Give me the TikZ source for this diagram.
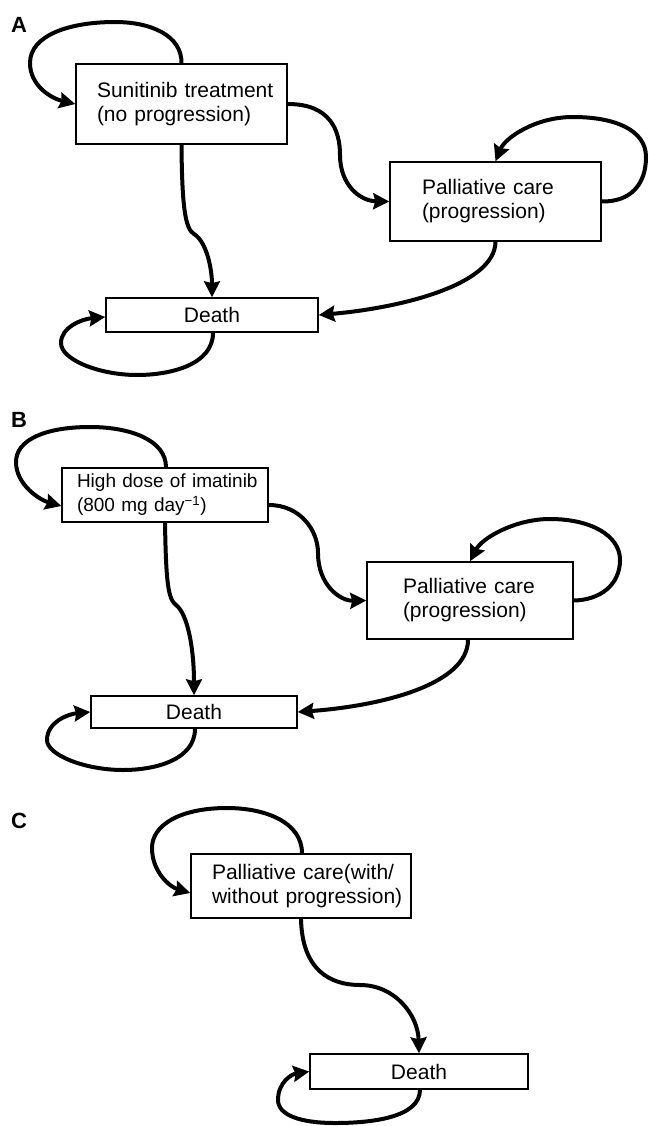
\documentclass[tikz,border=0pt]{standalone}
\usepackage{fontspec}
\setmainfont{Liberation Sans}
\usetikzlibrary{arrows.meta}
\begin{document}
\begin{tikzpicture}[x=1pt,y=-1pt,
  box/.style={draw, line width=1.5pt, inner ysep=0pt, anchor=center,
    font=\fontsize{21}{24}\selectfont},
  arr/.style={line width=4pt, -{Stealth[length=16pt,width=16pt,inset=2pt]}},
  lab/.style={font=\fontsize{22}{22}\selectfont\bfseries}]
\useasboundingbox (0,0) rectangle (648,1126);

% ---------- panel labels
\node[lab] (la) at (19,25) {A};
\node[lab] (lb) at (19,420) {B};
\node[lab] (lc) at (19,821) {C};

% ---------- panel A
\node[box, minimum width=211pt, minimum height=80pt, inner xsep=21pt,
  text width=169pt, align=left] (s1) at (181.5,104)
  {\mbox{Sunitinib treatment}\\\mbox{(no progression)}};
\node[box, minimum width=211pt, minimum height=79pt, inner xsep=32pt,
  text width=147pt, align=left] (p1) at (495.5,201.5)
  {\mbox{Palliative care}\\\mbox{(progression)}};
\node[box, minimum width=212pt, minimum height=34pt, inner xsep=0pt] (d1) at (212,315) {Death};

\draw[arr] (s1.north) .. controls (182,35) and (150,22) .. (115,22)
  .. controls (70,22) and (30,35) .. (30,63)
  .. controls (30,85) and (50,98) .. (s1.west);
\draw[arr] (s1.east) .. controls (330,104) and (340,130) .. (340,155)
  .. controls (340,185) and (360,201) .. (p1.west);
\draw[arr] (p1.east) .. controls (630,202) and (646,185) .. (646,157)
  .. controls (646,130) and (615,117) .. (573,117)
  .. controls (535,117) and (505,138) .. (p1.north);
\draw[arr] (s1.south) .. controls (182,212) and (186,229) .. (194,234)
  .. controls (207,242) and (212,270) .. (d1.north);
\draw[arr] (p1.south) .. controls (495,285) and (400,308) .. (d1.east);
\draw[arr] ([xshift=1pt]d1.south) .. controls (213,365) and (170,375) .. (137,375)
  .. controls (100,375) and (61,360) .. (61,343)
  .. controls (61,327) and (82,319) .. ([yshift=-2pt]d1.west);

% ---------- panel B
\node[box, minimum width=206pt, minimum height=54pt, inner xsep=15pt,
  text width=176pt, align=left, font=\fontsize{19}{24}\selectfont] (hd) at (165,495)
  {\mbox{High dose of imatinib}\\\mbox{(800 mg day\textsuperscript{−1})}};
\node[box, minimum width=206pt, minimum height=77pt, inner xsep=36pt,
  text width=134pt, align=left] (p2) at (470,600.5)
  {\mbox{Palliative care}\\\mbox{(progression)}};
\node[box, minimum width=206pt, minimum height=32pt, inner xsep=0pt] (d2) at (194,712) {Death};

\draw[arr] ([xshift=1pt]hd.north) .. controls (166,440) and (130,427) .. (90,427)
  .. controls (45,427) and (16,440) .. (16,462)
  .. controls (16,485) and (40,500) .. ([yshift=-11pt]hd.west);
\draw[arr] ([yshift=-10pt]hd.east) .. controls (300,505) and (318,530) .. (318,553)
  .. controls (318,585) and (340,601) .. (p2.west);
\draw[arr] (p2.east) .. controls (600,600) and (620,585) .. (620,560)
  .. controls (620,535) and (590,519) .. (550,519)
  .. controls (515,519) and (482,538) .. (p2.north);
\draw[arr] (hd.south) .. controls (166,582) and (168,599) .. (176,605)
  .. controls (188,614) and (194,650) .. (d2.north);
\draw[arr] ([xshift=-2pt]p2.south) .. controls (468,685) and (380,706) .. (d2.east);
\draw[arr] ([xshift=1pt]d2.south) .. controls (195,760) and (155,770) .. (123,770)
  .. controls (85,770) and (47,755) .. (47,740)
  .. controls (47,722) and (68,714) .. (d2.west);

% ---------- panel C
\node[box, minimum width=220pt, minimum height=64pt, inner xsep=21pt,
  text width=178pt, align=left] (pc) at (301,886)
  {\mbox{Palliative care(with/}\\\mbox{without progression)}};
\node[box, minimum width=218pt, minimum height=35pt, inner xsep=0pt] (d3) at (419,1071.5) {Death};

\draw[arr] ([xshift=1pt]pc.north) .. controls (302,822) and (265,808) .. (227,808)
  .. controls (180,808) and (152,825) .. (152,848)
  .. controls (152,872) and (170,887) .. ([yshift=-7pt]pc.west);
\draw[arr] (pc.south) .. controls (302,970) and (330,985) .. (360,985)
  .. controls (395,985) and (418,1015) .. (d3.north);
\draw[arr] ([xshift=1pt]d3.south) .. controls (420,1118) and (370,1123) .. (335,1123)
  .. controls (300,1123) and (278,1115) .. (278,1100)
  .. controls (278,1082) and (292,1074) .. (d3.west);
\end{tikzpicture}
\end{document}
